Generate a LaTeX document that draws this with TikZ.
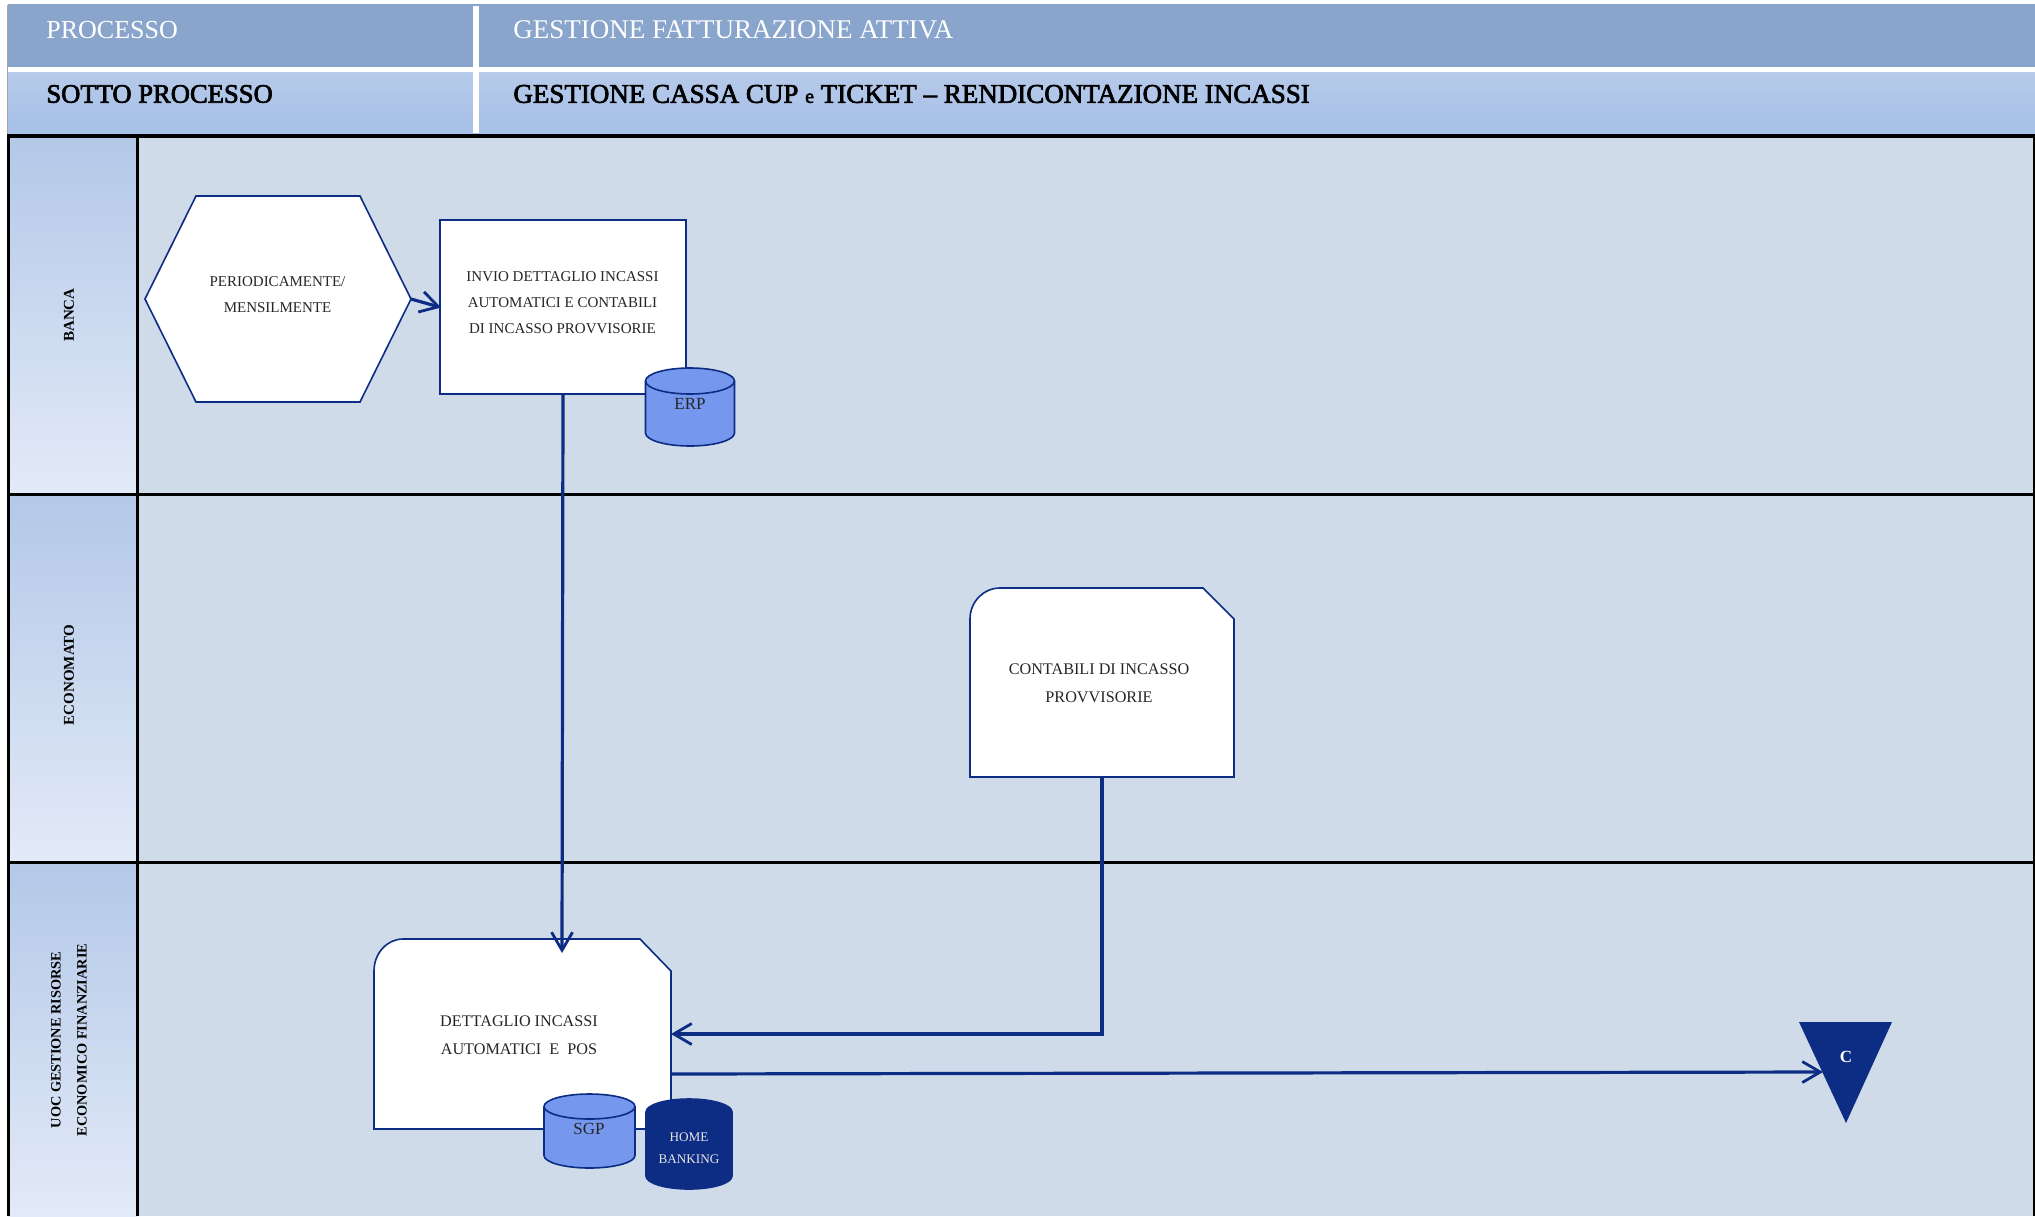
\documentclass[tikz,border=0pt]{standalone}
\usepackage{fontspec}
\setmainfont{Liberation Serif}
\newfontfamily\semib[FakeBold=2.6]{Liberation Serif}
\usetikzlibrary{arrows.meta}
\definecolor{ink}{HTML}{0D2C84}
\definecolor{panel}{HTML}{CFDBE9}
\definecolor{dbblue}{HTML}{7598EE}
\definecolor{headA}{HTML}{8AA5CC}
\definecolor{headBt}{HTML}{B6CAE9}
\definecolor{headBb}{HTML}{A6C0E8}
\definecolor{laneT}{HTML}{B3C8E8}
\definecolor{laneB}{HTML}{E3EAF7}
\tikzset{
  x=0.5pt,y=-0.5pt,
  outline/.style={draw=ink,line width=0.8pt,fill=white,line join=miter},
  flow/.style={draw=ink,line width=1.6pt,-{Straight Barb[length=9pt,width=10.5pt,line width=1.4pt]}},
  laneline/.style={draw=black,line width=1.5pt},
  headw/.style={font=\fontsize{13.5}{17}\selectfont,text=white,anchor=west,inner sep=0pt},
  headk/.style={font=\semib\fontsize{13.5}{17}\selectfont,text=black,anchor=west,inner sep=0pt},
  lanelab/.style={font=\fontsize{7.5}{13}\selectfont\bfseries,rotate=90,align=center,inner sep=0pt},
  body/.style={font=\fontsize{7.5}{13}\selectfont,text=black!85,align=center,inner sep=0pt},
  bodywide/.style={font=\fontsize{8.1}{14}\selectfont,text=black!85,align=center,inner sep=0pt},
}
\newcommand{\cylshape}[7]{% x1 x2 top bottom ry fill draw
  \path[fill=#6,draw=#7,line width=0.8pt]
    (#1,#3+#5) arc[start angle=180,end angle=360,x radius={(#2-#1)/2},y radius=#5]
    -- (#2,#4-#5) arc[start angle=0,end angle=180,x radius={(#2-#1)/2},y radius=#5] -- cycle;
  \path[draw=#7,line width=0.8pt]
    (#1,#3+#5) arc[start angle=180,end angle=0,x radius={(#2-#1)/2},y radius=#5];
}
\begin{document}
\begin{tikzpicture}
\useasboundingbox (0,0) rectangle (2035,1216);
% header
\fill[black!35] (7,5) rectangle (2035,136);
\fill[headA] (8,4) rectangle (2035,67);
\path[shade,top color=headBt,bottom color=headBb] (8,72) rectangle (2035,133);
\fill[white] (8,67) rectangle (2035,72);
\fill[white] (472.5,6) rectangle (478.5,133);
\node[headw,font=\fontsize{13}{17}\selectfont] (h1) at (46,30) {PROCESSO};
\node[headw] (h2) at (513,30) {GESTIONE FATTURAZIONE ATTIVA};
\node[headk,font=\semib\fontsize{13.3}{17}\selectfont] (h3) at (46,94) {SOTTO PROCESSO};
\node[headk] (h4) at (513,94) {GESTIONE CASSA CUP {\fontsize{10}{12}\selectfont e} TICKET – RENDICONTAZIONE INCASSI};
% lanes
\fill[panel] (137,136) rectangle (2033,1216);
\path[shade,top color=laneT,bottom color=laneB] (8,136) rectangle (137,494);
\path[shade,top color=laneT,bottom color=laneB] (8,494) rectangle (137,862);
\path[shade,top color=laneT,bottom color=laneB] (8,862) rectangle (137,1216);
\draw[draw=black,line width=1.6pt] (7,136) -- (2035,136);
\draw[laneline] (8,136) -- (8,1216);
\draw[laneline] (137,136) -- (137,1216);
\draw[laneline] (8,494) -- (2035,494);
\draw[laneline] (8,862) -- (2035,862);
\draw[draw=black,line width=0.6pt] (2034,136) -- (2034,1216);
\node[lanelab] (l1) at (69,315) {BANCA};
\node[lanelab] (l2) at (69,675) {ECONOMATO};
\node[lanelab,font=\fontsize{7.15}{13}\selectfont\bfseries] (l3) at (69,1040) {UOC GESTIONE RISORSE\\ECONOMICO FINANZIARIE};
% hexagon
\path[outline] (145,299) -- (196,196) -- (360,196) -- (411,299) -- (360,402) -- (196,402) -- cycle;
\coordinate (hexE) at (411,299);
\node[body] (t1) at (277.5,294.5) {PERIODICAMENTE/\\MENSILMENTE};
% box
\node[outline,rectangle,inner sep=0pt,minimum width=123pt,minimum height=87pt] (box) at (563,307) {};
\node[body] (t2) at (562.5,302.5) {INVIO DETTAGLIO INCASSI\\AUTOMATICI E CONTABILI\\DI INCASSO PROVVISORIE};
% doc 2
\path[outline] (970,619) arc[start angle=180,end angle=270,x radius=30,y radius=31] -- (1203,588) -- (1234,619) -- (1234,777) -- (970,777) -- cycle;
\coordinate (d2S) at (1102,777);
\node[bodywide] (t3) at (1099,683) {CONTABILI DI INCASSO\\PROVVISORIE};
% doc 3
\path[outline] (374,971) arc[start angle=180,end angle=270,x radius=29,y radius=32] -- (640,939) -- (671,971) -- (671,1129) -- (374,1129) -- cycle;
\coordinate (d3N) at (562,953);
\coordinate (d3Ea) at (671,1034);
\coordinate (d3Eb) at (671,1074);
\coordinate (bend) at (1102,1034);
\node[bodywide] (t4) at (519,1035) {DETTAGLIO INCASSI\\AUTOMATICI \ E \ POS};
% connectors
\draw[flow,shorten >=-1pt] (hexE) -- (box.west);
\draw[flow] (box.south) -- (d3N);
\draw[flow] (d2S) -- (bend) -- (d3Ea);
% cylinders
\cylshape{645.5}{734.5}{368}{446}{13}{dbblue}{ink}
\node[inner sep=0pt,font=\fontsize{8.5}{10}\selectfont,text=black!85] (erp) at (690,403.5) {ERP};
\cylshape{544}{635}{1094}{1168}{12.5}{dbblue}{ink}
\node[inner sep=0pt,font=\fontsize{8.5}{10}\selectfont,text=black!85] (sgp) at (589,1128.5) {SGP};
\cylshape{646}{732}{1099}{1189}{13}{ink}{ink}
\node[inner sep=0pt,align=center,font=\fontsize{6.6}{11}\selectfont,text=white!90!black] (hb) at (689,1148) {HOME\\BANKING};
% triangle
\path[fill=ink] (1799,1022) -- (1892,1022) -- (1846,1123) -- cycle;
\coordinate (triW) at (1823,1072);
\node[inner sep=0pt,font=\fontsize{8.5}{10}\selectfont\bfseries,text=white] (c) at (1846,1057) {C};
\draw[flow] (d3Eb) -- (triW);
\end{tikzpicture}
\end{document}
